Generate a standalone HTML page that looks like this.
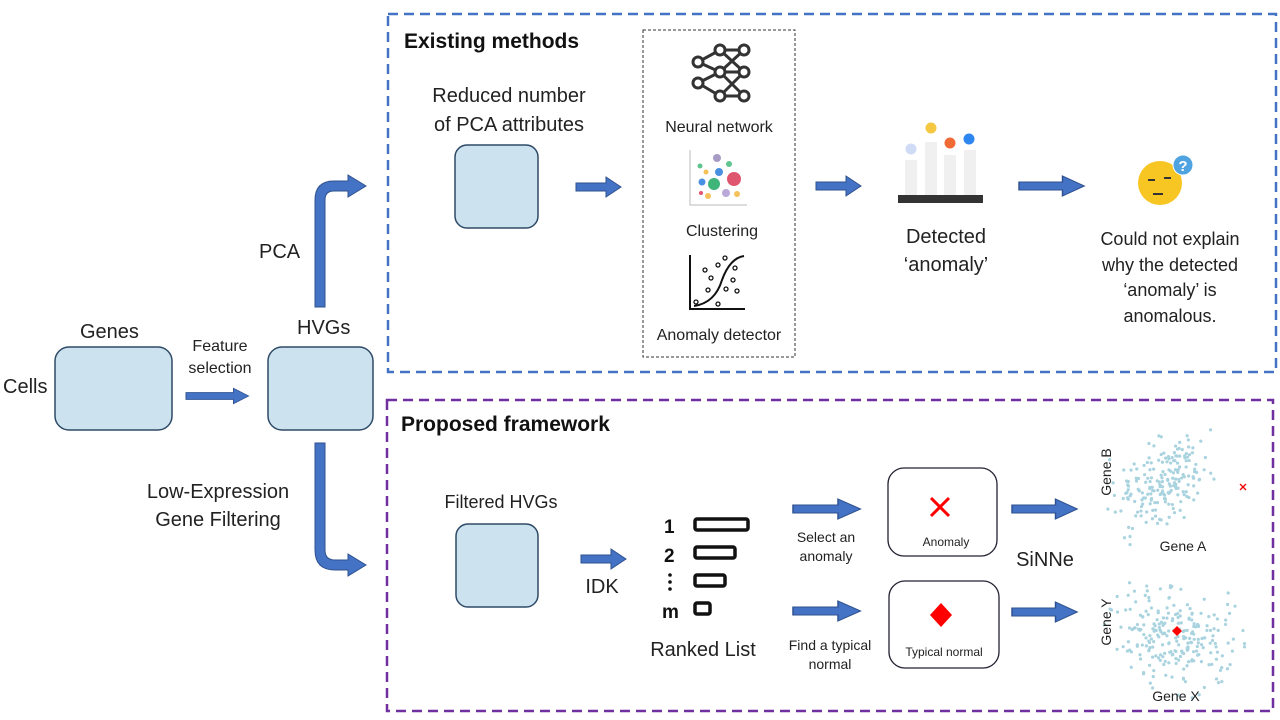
<!DOCTYPE html>
<html><head><meta charset="utf-8"><style>
body{margin:0;background:#fff}
svg{display:block;font-family:"Liberation Sans",sans-serif}
</style></head><body>
<svg id="s" width="1280" height="720" viewBox="0 0 1280 720" xmlns="http://www.w3.org/2000/svg">
<defs>
<g id="ar"><path d="M0,-4 H30 V-10 L45,0 L30,10 V4 H0 Z" fill="#4472c4" stroke="#2f528f" stroke-width="1"/></g>
<g id="arL"><path d="M0,-5 H50 V-11 L66,0 L50,11 V5 H0 Z" fill="#4472c4" stroke="#2f528f" stroke-width="1"/></g>
</defs>
<rect width="1280" height="720" fill="#fff"/>
<rect x="388" y="14" width="888" height="358" fill="none" stroke="#4472c4" stroke-width="2.5" stroke-dasharray="10,6"/>
<rect x="387" y="400" width="886" height="311" fill="none" stroke="#7030a0" stroke-width="2.5" stroke-dasharray="10,6"/>
<text x="404" y="48" font-size="21" font-weight="bold" fill="#111">Existing methods</text>
<text x="401" y="431" font-size="21" font-weight="bold" fill="#111">Proposed framework</text>

<text x="80" y="338" font-size="20" fill="#222">Genes</text>
<text x="3" y="393" font-size="20" fill="#222">Cells</text>
<rect x="55" y="347" width="117" height="83" rx="14" fill="#cce3ef" stroke="#2e4a66" stroke-width="1.5"/>
<text x="220" y="351" font-size="16" text-anchor="middle" fill="#222">Feature</text>
<text x="220" y="373" font-size="16" text-anchor="middle" fill="#222">selection</text>
<g transform="translate(186,396) scale(0.95,0.7)"><use href="#arL"/></g>
<text x="297" y="334" font-size="20" fill="#222">HVGs</text>
<rect x="268" y="347" width="105" height="83" rx="14" fill="#cce3ef" stroke="#2e4a66" stroke-width="1.5"/>
<text x="259" y="258" font-size="20" fill="#222">PCA</text>
<text x="218" y="498" font-size="20" text-anchor="middle" fill="#222">Low-Expression</text>
<text x="218" y="526" font-size="20" text-anchor="middle" fill="#222">Gene Filtering</text>
<path d="M315,307 V200 Q315,181 334,181 H348 V175 L366,186 L348,197 V191 H334 Q325,191 325,200 V307 Z" fill="#4472c4" stroke="#2f528f" stroke-width="1"/>
<path d="M315,443 V550 Q315,570 335,570 H348 V576 L366,565 L348,554 V560 H335 Q325,560 325,550 V443 Z" fill="#4472c4" stroke="#2f528f" stroke-width="1"/>

<text x="509" y="102" font-size="20" text-anchor="middle" fill="#222">Reduced number</text>
<text x="509" y="131" font-size="20" text-anchor="middle" fill="#222">of PCA attributes</text>
<rect x="455" y="145" width="83" height="83" rx="12" fill="#cce3ef" stroke="#2e4a66" stroke-width="1.5"/>
<g transform="translate(576,187)"><use href="#ar"/></g>
<rect x="643" y="30" width="152" height="327" fill="none" stroke="#333" stroke-width="1" stroke-dasharray="3,2"/>
<g stroke="#333" stroke-width="3" fill="none">
<path d="M698,62 L720,50 L744,50 M698,62 L720,72 L744,72 M698,83 L720,72 M698,83 L720,96 L744,96 M720,50 L744,72 M720,72 L744,50 M720,72 L744,96 M720,96 L744,72"/>
<circle cx="698" cy="62" r="5" fill="#fff"/><circle cx="698" cy="83" r="5" fill="#fff"/>
<circle cx="720" cy="50" r="5" fill="#fff"/><circle cx="720" cy="72" r="5" fill="#fff"/><circle cx="720" cy="96" r="5" fill="#fff"/>
<circle cx="744" cy="50" r="5" fill="#fff"/><circle cx="744" cy="72" r="5" fill="#fff"/><circle cx="744" cy="96" r="5" fill="#fff"/>
</g>
<text x="719" y="132" font-size="16" text-anchor="middle" fill="#222">Neural network</text>
<path d="M690,150 V205 H747" stroke="#bbb" fill="none"/>
<circle cx="717" cy="158" r="4" fill="#a89bc4"/><circle cx="700" cy="166" r="2.5" fill="#5fc48e"/><circle cx="729" cy="164" r="3" fill="#5fc48e"/>
<circle cx="719" cy="172" r="4" fill="#4a90e2"/><circle cx="734" cy="179" r="7" fill="#e0556e"/><circle cx="714" cy="184" r="6" fill="#3fb57a"/>
<circle cx="702" cy="182" r="3.5" fill="#4a90e2"/><circle cx="706" cy="172" r="2.5" fill="#f5c15a"/><circle cx="726" cy="193" r="4" fill="#b9a8d8"/>
<circle cx="737" cy="194" r="3" fill="#f5c15a"/><circle cx="708" cy="196" r="3" fill="#f5c15a"/><circle cx="701" cy="193" r="2" fill="#e0556e"/>
<text x="722" y="236" font-size="16" text-anchor="middle" fill="#222">Clustering</text>
<path d="M690,255 V309 H745" stroke="#111" stroke-width="2" fill="none"/>
<path d="M694,306 Q715,303 722,280 Q730,258 744,256" stroke="#111" stroke-width="2" fill="none"/>
<g fill="none" stroke="#111" stroke-width="1.3">
<circle cx="725" cy="258" r="2"/><circle cx="705" cy="270" r="2"/><circle cx="718" cy="265" r="2"/><circle cx="735" cy="268" r="2"/>
<circle cx="711" cy="278" r="2"/><circle cx="733" cy="280" r="2"/><circle cx="708" cy="290" r="2"/><circle cx="726" cy="289" r="2"/>
<circle cx="737" cy="291" r="2"/><circle cx="696" cy="302" r="2"/><circle cx="718" cy="304" r="2"/>
</g>
<text x="719" y="340" font-size="16" text-anchor="middle" fill="#222">Anomaly detector</text>
<g transform="translate(816,186)"><use href="#ar"/></g>
<rect x="905" y="160" width="12" height="35" fill="#f0f0f0"/><rect x="925" y="142" width="12" height="53" fill="#f0f0f0"/>
<rect x="944" y="155" width="12" height="40" fill="#f0f0f0"/><rect x="964" y="150" width="12" height="45" fill="#f0f0f0"/>
<circle cx="911" cy="149" r="5.5" fill="#d0dcf5"/><circle cx="931" cy="128" r="5.5" fill="#f5c842"/>
<circle cx="950" cy="143" r="5.5" fill="#f06a35"/><circle cx="969" cy="139" r="5.5" fill="#2e86f0"/>
<rect x="898" y="195" width="85" height="8" fill="#333"/>
<text x="946" y="243" font-size="20" text-anchor="middle" fill="#222">Detected</text>
<text x="946" y="271" font-size="20" text-anchor="middle" fill="#222">‘anomaly’</text>
<g transform="translate(1019,186) scale(1.45,1)"><use href="#ar"/></g>
<circle cx="1160" cy="183" r="22" fill="#f8c623"/>
<path d="M1148,180 h7 M1164,178 h7" stroke="#333" stroke-width="2"/>
<path d="M1153,194 h10" stroke="#333" stroke-width="2"/>
<circle cx="1183" cy="165" r="10" fill="#4fa3e0" stroke="#fff"/><text x="1183" y="171" font-size="15" font-weight="bold" text-anchor="middle" fill="#fff">?</text>
<g font-size="18" fill="#222" text-anchor="middle">
<text x="1170" y="245">Could not explain</text><text x="1170" y="271">why the detected</text>
<text x="1170" y="296">‘anomaly’ is</text><text x="1170" y="322">anomalous.</text></g>

<text x="501" y="508" font-size="18" text-anchor="middle" fill="#222">Filtered HVGs</text>
<rect x="456" y="524" width="82" height="83" rx="12" fill="#cce3ef" stroke="#2e4a66" stroke-width="1.5"/>
<g transform="translate(581,559)"><use href="#ar"/></g>
<text x="602" y="593" font-size="20" text-anchor="middle" fill="#222">IDK</text>
<g font-size="19" font-weight="bold" fill="#111"><text x="664" y="533">1</text><text x="664" y="562">2</text><text x="662" y="618">m</text></g>
<circle cx="670" cy="575" r="1.8" fill="#111"/><circle cx="670" cy="582" r="1.8" fill="#111"/><circle cx="670" cy="589" r="1.8" fill="#111"/>
<g fill="none" stroke="#111" stroke-width="3.5">
<rect x="695" y="519" width="53" height="11" rx="2"/><rect x="695" y="547" width="40" height="11" rx="2"/>
<rect x="695" y="575" width="30" height="11" rx="2"/><rect x="695" y="603" width="15" height="11" rx="2"/></g>
<text x="703" y="656" font-size="20" text-anchor="middle" fill="#222">Ranked List</text>
<g transform="translate(793,509) scale(1.5,1)"><use href="#ar"/></g>
<g transform="translate(793,611) scale(1.5,1)"><use href="#ar"/></g>
<g font-size="14" fill="#222" text-anchor="middle"><text x="826" y="542">Select an</text><text x="826" y="561">anomaly</text>
<text x="830" y="650">Find a typical</text><text x="830" y="669">normal</text></g>
<rect x="888" y="468" width="109" height="88" rx="16" fill="#fff" stroke="#223" stroke-width="1.3"/>
<path d="M931,498 L949,516 M949,498 L931,516" stroke="#f00" stroke-width="3"/>
<text x="946" y="546" font-size="12" text-anchor="middle" fill="#222">Anomaly</text>
<rect x="889" y="581" width="110" height="87" rx="16" fill="#fff" stroke="#223" stroke-width="1.3"/>
<path d="M941,603 L952,615 L941,627 L930,615 Z" fill="#f00"/>
<text x="944" y="656" font-size="12" text-anchor="middle" fill="#222">Typical normal</text>
<g transform="translate(1012,509) scale(1.45,1)"><use href="#ar"/></g>
<g transform="translate(1012,612) scale(1.45,1)"><use href="#ar"/></g>
<text x="1045" y="566" font-size="20" text-anchor="middle" fill="#222">SiNNe</text>
<g id="sc1"></g><g id="sc2"></g>
<text x="1111" y="472" font-size="14" fill="#222" text-anchor="middle" transform="rotate(-90 1111 472)">Gene B</text>
<text x="1183" y="551" font-size="14" fill="#222" text-anchor="middle">Gene A</text>
<path d="M1240,484 l6,6 m0,-6 l-6,6" stroke="#e00" stroke-width="1.3"/>
<text x="1111" y="622" font-size="14" fill="#222" text-anchor="middle" transform="rotate(-90 1111 622)">Gene Y</text>
<text x="1176" y="701" font-size="14" fill="#222" text-anchor="middle">Gene X</text>
<path id="dm" d="M1177,626 l5,5 l-5,5 l-5,-5 z" fill="#f00"/>
</svg>
<script>
var seed=7;function r(){seed=(seed*16807)%2147483647;return seed/2147483647;}
function g(){return (r()+r()+r()-1.5)*1.4;}
var ns="http://www.w3.org/2000/svg";
function add(id,n,cx,cy,sx,sy,rho){var el=document.getElementById(id);
for(var i=0;i<n;i++){var a=g(),b=g();var x=cx+sx*a,y=cy+sy*(rho*a+Math.sqrt(1-rho*rho)*b);
var c=document.createElementNS(ns,"circle");c.setAttribute("cx",x);c.setAttribute("cy",y);c.setAttribute("r",1.6);c.setAttribute("fill","#a9d3df");el.appendChild(c);}}
add("sc1",200,1162,482,30,32,-0.5);
add("sc2",240,1175,635,42,34,0.1);
var s2=document.getElementById("s");s2.appendChild(document.getElementById("dm"));
</script>
</body></html>
